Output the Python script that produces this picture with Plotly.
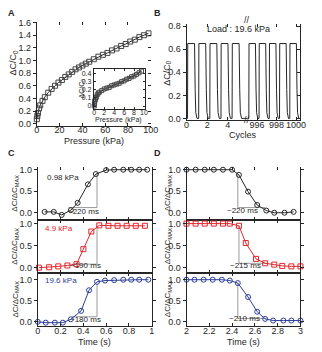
import plotly.graph_objects as go

W, H = 322, 352
FONT = "Liberation Sans, Arial, Helvetica, sans-serif"
INK = "#262626"
GUIDE = "#9a9a9a"
RED = "#e3262d"
BLUE = "#2d3e9c"

# ---------------- data ----------------
# Panel A: relative capacitance change vs pressure
A_pressure = [0, 0.5, 1, 2, 3, 5, 7, 10, 13, 16, 19, 22, 25, 28, 31, 34, 37, 40, 43, 46,
              50, 54, 58, 62, 66, 70, 74, 78, 82, 86, 90, 94, 98]
A_dC = [0.07, 0.12, 0.17, 0.24, 0.29, 0.36, 0.42, 0.49, 0.55, 0.60, 0.65, 0.69, 0.74, 0.78,
        0.82, 0.86, 0.89, 0.92, 0.95, 0.98, 1.02, 1.06, 1.09, 1.12, 1.16, 1.19, 1.23, 1.26,
        1.30, 1.33, 1.37, 1.40, 1.43]
A_xticks = [0, 20, 40, 60, 80, 100]
A_yticks = [0.0, 0.2, 0.4, 0.6, 0.8, 1.0, 1.2, 1.4, 1.6]

# Inset: low-pressure region
inset_pressure = [0.0, 0.05, 0.1, 0.2, 0.3, 0.4, 0.6, 0.8, 1.0, 1.5, 2.0, 2.5, 3.0, 3.5, 4.0,
                  4.5, 5.0, 5.5, 6.0, 6.5, 7.0, 7.5, 8.0, 8.5, 9.0, 9.5]
inset_dC = [0.0, 0.03, 0.06, 0.08, 0.10, 0.11, 0.14, 0.16, 0.17, 0.19, 0.21, 0.22, 0.23, 0.25,
            0.26, 0.27, 0.28, 0.30, 0.31, 0.33, 0.34, 0.36, 0.37, 0.39, 0.41, 0.43]
inset_xticks = [0, 2, 4, 6, 8, 10]
inset_yticks = [0, 0.1, 0.2, 0.3, 0.4]
inset_yticktext = ["0", "0.1", "0.2", "0.3", "0.4"]

# Panel B: cycling test (load 19.6 kPa)
B_left_cycles = [0.00, 0.10, 0.12, 0.78, 0.84, 0.90, 1.02,
                 1.18, 1.20, 1.86, 1.92, 1.98, 2.10,
                 2.26, 2.28, 2.94, 3.00, 3.06, 3.18,
                 3.34, 3.36, 4.02, 4.08, 4.14, 4.26,
                 4.42, 4.44, 5.10, 5.16, 5.22, 5.34, 5.90]
B_left_dC = [0.0, 0.0, 0.65, 0.65, 0.25, 0.05, 0.0,
             0.0, 0.65, 0.65, 0.25, 0.05, 0.0,
             0.0, 0.65, 0.65, 0.25, 0.05, 0.0,
             0.0, 0.65, 0.65, 0.25, 0.05, 0.0,
             0.0, 0.65, 0.65, 0.25, 0.05, 0.0, 0.0]
B_right_cycles = [995.00, 995.15, 995.17, 995.83, 995.89, 995.95, 996.07,
                  996.20, 996.22, 996.88, 996.94, 997.00, 997.12,
                  997.25, 997.27, 997.93, 997.99, 998.05, 998.17,
                  998.30, 998.32, 998.98, 999.04, 999.10, 999.22,
                  999.35, 999.37, 1000.03, 1000.09, 1000.15, 1000.27, 1000.35]
B_right_dC = [0.0, 0.0, 0.65, 0.65, 0.25, 0.05, 0.0,
              0.0, 0.65, 0.65, 0.25, 0.05, 0.0,
              0.0, 0.65, 0.65, 0.25, 0.05, 0.0,
              0.0, 0.65, 0.65, 0.25, 0.05, 0.0,
              0.0, 0.65, 0.65, 0.25, 0.05, 0.0, 0.0]
B_left_ticks = [0, 2, 4]
B_right_ticks = [996, 998, 1000]
B_yticks = [0.0, 0.2, 0.4, 0.6, 0.8]

# Panel C: loading response
C_top_t = [0.06, 0.14, 0.21, 0.29, 0.35, 0.44, 0.51, 0.60, 0.67, 0.75, 0.82, 0.89, 0.96]
C_top_v = [0.02, 0.02, -0.05, 0.06, 0.23, 0.66, 0.90, 0.99, 1.0, 1.0, 1.0, 1.0, 1.0]
C_mid_t = [0.01, 0.10, 0.18, 0.26, 0.34, 0.40, 0.47, 0.54, 0.62, 0.70, 0.78, 0.86, 0.94]
C_mid_v = [0.0, 0.01, 0.03, 0.05, 0.08, 0.42, 0.82, 0.96, 0.95, 0.95, 0.95, 0.95, 0.95]
C_bot_t = [0.00, 0.07, 0.15, 0.22, 0.29, 0.38, 0.45, 0.52, 0.59, 0.67, 0.75, 0.82, 0.89, 0.97]
C_bot_v = [0.0, -0.02, -0.02, -0.02, 0.06, 0.26, 0.75, 0.95, 0.98, 0.99, 1.0, 1.0, 1.0, 1.0]
C_xticks = [0, 0.2, 0.4, 0.6, 0.8, 1]
C_xticktext = ["0", "0.2", "0.4", "0.6", "0.8", "1"]

# Panel D: unloading response
D_top_t = [2.00, 2.08, 2.16, 2.24, 2.32, 2.40, 2.46, 2.54, 2.62, 2.70, 2.77, 2.86, 2.94]
D_top_v = [1.0, 1.0, 1.0, 1.0, 1.0, 1.0, 0.88, 0.49, 0.18, 0.05, 0.0, 0.0, 0.02]
D_mid_t = [2.00, 2.08, 2.16, 2.24, 2.32, 2.38, 2.46, 2.52, 2.61, 2.69, 2.77, 2.84, 2.92, 3.00]
D_mid_v = [1.0, 1.0, 1.0, 1.0, 1.0, 1.0, 0.95, 0.56, 0.20, 0.10, 0.07, 0.04, 0.03, 0.03]
D_bot_t = [2.00, 2.07, 2.15, 2.23, 2.31, 2.38, 2.45, 2.54, 2.62, 2.69, 2.76, 2.85, 2.92, 3.00]
D_bot_v = [1.0, 1.0, 1.0, 1.0, 1.0, 0.98, 0.92, 0.59, 0.24, 0.07, 0.03, 0.03, 0.03, 0.03]
D_xticks = [2, 2.2, 2.4, 2.6, 2.8, 3]
D_xticktext = ["2", "2.2", "2.4", "2.6", "2.8", "3"]
CD_yticks = [0.0, 0.5, 1.0]

# response-time guide lines
C_top_guide_t = [0.27, 0.52, 0.52]; C_top_guide_v = [0.12, 0.12, 0.92]
C_mid_guide_t = [0.30, 0.52, 0.52]; C_mid_guide_v = [0.08, 0.08, 0.96]
C_bot_guide_t = [0.30, 0.52, 0.52]; C_bot_guide_v = [0.12, 0.12, 0.90]
D_top_guide_t = [2.45, 2.45, 2.69]; D_top_guide_v = [0.90, 0.12, 0.12]
D_mid_guide_t = [2.46, 2.46, 2.70]; D_mid_guide_v = [0.95, 0.10, 0.10]
D_bot_guide_t = [2.45, 2.45, 2.70]; D_bot_guide_v = [0.92, 0.08, 0.08]

# ---------------- helpers ----------------
def fx(p):
    return p / W

def fy(p):
    return 1 - p / H

TICKFONT = dict(family=FONT, size=9, color=INK)

def axis(**kw):
    d = dict(showgrid=False, zeroline=False, showline=True, linecolor=INK, linewidth=1,
             ticks="outside", ticklen=3, tickwidth=1, tickcolor=INK, tickfont=TICKFONT,
             tickangle=0, fixedrange=True)
    d.update(kw)
    return d

def xaxis_(**kw):
    d = axis(ticks="inside", ticklabelstandoff=-4)
    d.update(kw)
    return d

def tickonly(**kw):
    d = axis(showline=False, showticklabels=False, ticks="inside")
    d.update(kw)
    return d

fig = go.Figure()

def dummy(xa, ya):
    fig.add_trace(go.Scatter(x=[None], y=[None], xaxis=xa, yaxis=ya, showlegend=False,
                             hoverinfo="skip", mode="markers"))

# Panel A
fig.add_trace(go.Scatter(x=A_pressure, y=A_dC, mode="lines+markers", xaxis="x", yaxis="y",
                         line=dict(color=INK, width=1),
                         marker=dict(symbol="square-open", size=5, color="#444",
                                     line=dict(width=1)),
                         cliponaxis=False, showlegend=False))
fig.add_trace(go.Scatter(x=inset_pressure, y=inset_dC, mode="lines+markers", xaxis="x2",
                         yaxis="y2", line=dict(color=INK, width=1),
                         marker=dict(symbol="square-open", size=4, color="#444",
                                     line=dict(width=1)),
                         cliponaxis=False, showlegend=False))
dummy("x11", "y")
dummy("x", "y11")

# Panel B
fig.add_trace(go.Scatter(x=B_left_cycles, y=B_left_dC, mode="lines", xaxis="x3", yaxis="y3",
                         line=dict(color=INK, width=1), showlegend=False))
fig.add_trace(go.Scatter(x=B_right_cycles, y=B_right_dC, mode="lines", xaxis="x4", yaxis="y3",
                         line=dict(color=INK, width=1), showlegend=False))
dummy("x4", "y4")
dummy("x12", "y3")
dummy("x13", "y3")

# Panels C & D
series = [
    ("x5", "y5", C_top_t, C_top_v, INK, "circle-open", C_top_guide_t, C_top_guide_v),
    ("x6", "y6", C_mid_t, C_mid_v, RED, "square-open", C_mid_guide_t, C_mid_guide_v),
    ("x7", "y7", C_bot_t, C_bot_v, BLUE, "circle-open", C_bot_guide_t, C_bot_guide_v),
    ("x8", "y8", D_top_t, D_top_v, INK, "circle-open", D_top_guide_t, D_top_guide_v),
    ("x9", "y9", D_mid_t, D_mid_v, RED, "square-open", D_mid_guide_t, D_mid_guide_v),
    ("x10", "y10", D_bot_t, D_bot_v, BLUE, "circle-open", D_bot_guide_t, D_bot_guide_v),
]
for xa, ya, t, v, col, sym, gt, gv in series:
    fig.add_trace(go.Scatter(x=gt, y=gv, mode="lines", xaxis=xa, yaxis=ya,
                             line=dict(color=GUIDE, width=1), showlegend=False))
    fig.add_trace(go.Scatter(x=t, y=v, mode="lines+markers", xaxis=xa, yaxis=ya,
                             line=dict(color=col, width=1),
                             marker=dict(symbol=sym, size=5, color=col, line=dict(width=1)),
                             cliponaxis=False, showlegend=False))
dummy("x14", "y5")
dummy("x15", "y8")

# ---------------- layout ----------------
C_dom_x = [fx(36), fx(154)]
D_dom_x = [fx(190), fx(308)]
top_dom = [fy(220), fy(166)]
mid_dom = [fy(274), fy(220)]
bot_dom = [fy(329), fy(274)]
top_rng = [-0.16, 1.07]
mid_rng = [-0.11, 1.09]
bot_rng = [-0.11, 1.17]
SMALL = dict(family=FONT, size=7, color=INK)

layout = dict(
    width=W, height=H, margin=dict(l=0, r=0, t=0, b=0),
    plot_bgcolor="white", paper_bgcolor="white", showlegend=False,
    font=dict(family=FONT, size=9, color=INK),
    # A
    xaxis=xaxis_(domain=[fx(35), fx(153)], anchor="y", range=[0, 100], tickvals=A_xticks),
    yaxis=axis(domain=[fy(124), fy(18)], anchor="x", range=[-0.03, 1.615], tickvals=A_yticks,
               tickformat=".1f"),
    xaxis11=tickonly(overlaying="x", side="top", anchor="y", range=[0, 100], tickvals=A_xticks[1:]),
    yaxis11=tickonly(overlaying="y", side="right", anchor="x", range=[-0.03, 1.615],
                     tickvals=A_yticks),
    # inset
    xaxis2=xaxis_(domain=[fx(94), fx(147)], anchor="y2", range=[-0.1, 10.2], tickvals=inset_xticks,
                  mirror="ticks", ticklen=2, tickfont=SMALL, ticklabelstandoff=-3),
    yaxis2=axis(domain=[fy(107), fy(66)], anchor="x2", range=[-0.035, 0.46], tickvals=inset_yticks,
                ticktext=inset_yticktext, mirror="ticks", ticks="inside", ticklen=2,
                tickfont=SMALL),
    # B
    xaxis3=xaxis_(domain=[fx(190), fx(253)], anchor="y3", range=[0, 5.9], tickvals=B_left_ticks),
    xaxis4=xaxis_(domain=[fx(253), fx(307)], anchor="y3", range=[995, 1000.35],
                  tickvals=B_right_ticks),
    yaxis3=axis(domain=[fy(118.5), fy(20)], anchor="x3", range=[-0.015, 0.823], tickvals=B_yticks,
                tickformat=".1f"),
    yaxis4=axis(overlaying="y3", anchor="x4", side="right", range=[-0.015, 0.823],
                tickvals=B_yticks, showticklabels=False, ticks="inside"),
    xaxis12=tickonly(overlaying="x3", side="top", anchor="y3", range=[0, 5.9], tickvals=[2, 4]),
    xaxis13=tickonly(overlaying="x4", side="top", anchor="y3", range=[995, 1000.35],
                     tickvals=B_right_ticks),
    # C
    xaxis5=xaxis_(domain=C_dom_x, anchor="y5", range=[0, 1], tickvals=C_xticks,
                  showticklabels=False),
    yaxis5=axis(domain=top_dom, anchor="x5", range=top_rng, tickvals=CD_yticks, tickformat=".1f",
                mirror="ticks"),
    xaxis6=xaxis_(domain=C_dom_x, anchor="y6", range=[0, 1], tickvals=C_xticks,
                  showticklabels=False, mirror="ticks"),
    yaxis6=axis(domain=mid_dom, anchor="x6", range=mid_rng, tickvals=CD_yticks, tickformat=".1f",
                mirror="ticks"),
    xaxis7=xaxis_(domain=C_dom_x, anchor="y7", range=[0, 1], tickvals=C_xticks,
                  ticktext=C_xticktext, mirror="ticks"),
    yaxis7=axis(domain=bot_dom, anchor="x7", range=bot_rng, tickvals=CD_yticks, tickformat=".1f",
                mirror="ticks"),
    xaxis14=tickonly(overlaying="x5", side="top", anchor="y5", range=[0, 1],
                     tickvals=C_xticks[1:]),
    # D
    xaxis8=xaxis_(domain=D_dom_x, anchor="y8", range=[2, 3], tickvals=D_xticks,
                  showticklabels=False),
    yaxis8=axis(domain=top_dom, anchor="x8", range=top_rng, tickvals=CD_yticks, tickformat=".1f",
                mirror="ticks"),
    xaxis9=xaxis_(domain=D_dom_x, anchor="y9", range=[2, 3], tickvals=D_xticks,
                  showticklabels=False, mirror="ticks"),
    yaxis9=axis(domain=mid_dom, anchor="x9", range=mid_rng, tickvals=CD_yticks, tickformat=".1f",
                mirror="ticks"),
    xaxis10=xaxis_(domain=D_dom_x, anchor="y10", range=[2, 3], tickvals=D_xticks,
                   ticktext=D_xticktext, mirror="ticks"),
    yaxis10=axis(domain=bot_dom, anchor="x10", range=bot_rng, tickvals=CD_yticks, tickformat=".1f",
                 mirror="ticks"),
    xaxis15=tickonly(overlaying="x8", side="top", anchor="y8", range=[2, 3],
                     tickvals=D_xticks[1:]),
)
fig.update_layout(**layout)

ann = []

def paper_text(text, x, y, size=9, angle=0, color=INK, xanchor="center", bold=False):
    ann.append(dict(text=("<b>%s</b>" % text) if bold else text, x=fx(x), y=fy(y),
                    xref="paper", yref="paper", showarrow=False, textangle=angle,
                    xanchor=xanchor, yanchor="middle",
                    font=dict(family=FONT, size=size, color=color)))

def data_text(text, xa, ya, x, y, size=8, color=INK, xanchor="center"):
    ann.append(dict(text=text, x=x, y=y, xref=xa, yref=ya, showarrow=False,
                    xanchor=xanchor, yanchor="middle",
                    font=dict(family=FONT, size=size, color=color)))

# panel letters
paper_text("A", 3, 9, size=9, xanchor="left", bold=True)
paper_text("B", 154, 9, size=9, xanchor="left", bold=True)
paper_text("C", 3, 152, size=9, xanchor="left", bold=True)
paper_text("D", 154, 152, size=9, xanchor="left", bold=True)

# axis titles
paper_text("ΔC/C<sub>0</sub>", 11, 60, angle=-90)
paper_text("Pressure (kPa)", 94, 140)
paper_text("Pressure (kPa)", 120, 118, size=7)
paper_text("ΔC/C<sub>0</sub>", 82, 86, size=7, angle=-90)
paper_text("ΔC/C<sub>0</sub>", 170, 70, angle=-90)
paper_text("Cycles", 248, 134)
paper_text("Load : 19.6 kPa", 244, 25)
paper_text("//", 253, 16, size=9)
paper_text("//", 253, 118, size=9)
for yc in (193, 247, 301):
    paper_text("ΔC/ΔC<sub>MAX</sub>", 13, yc, size=8, angle=-90)
    paper_text("ΔC/ΔC<sub>MAX</sub>", 171, yc, size=8, angle=-90)
paper_text("Time (s)", 95, 345)
paper_text("Time (s)", 249, 345)

# in-panel labels
data_text("0.98 kPa", "x5", "y5", 0.06, 0.83, color=INK, xanchor="left")
data_text("4.9 kPa", "x6", "y6", 0.05, 0.88, color=RED, xanchor="left")
data_text("19.6 kPa", "x7", "y7", 0.05, 0.98, color=BLUE, xanchor="left")
data_text("~220 ms", "x5", "y5", 0.40, 0.02)
data_text("~190 ms", "x6", "y6", 0.42, 0.04)
data_text("~180 ms", "x7", "y7", 0.42, 0.05)
data_text("~220 ms", "x8", "y8", 2.49, 0.05)
data_text("~215 ms", "x9", "y9", 2.52, 0.06)
data_text("~210 ms", "x10", "y10", 2.51, 0.08)

fig.update_layout(annotations=ann)
fig.write_html("out.html")
